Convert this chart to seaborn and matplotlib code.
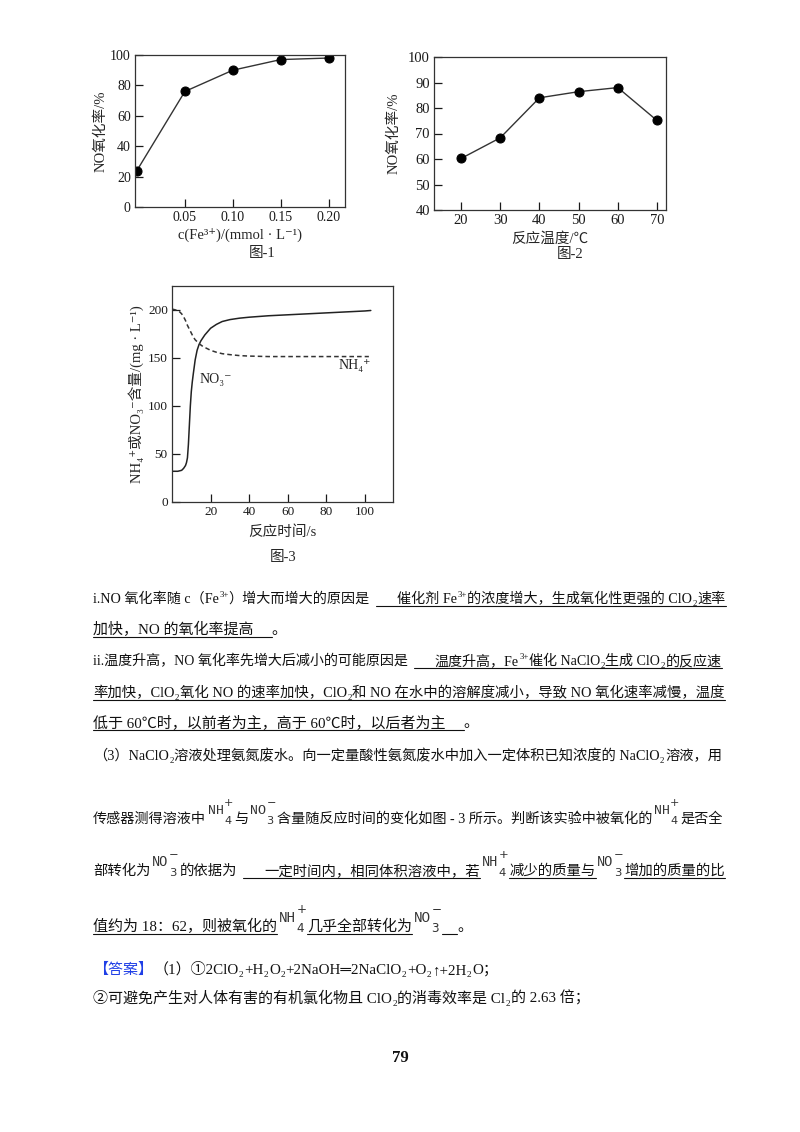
import matplotlib
matplotlib.use("Agg")
import matplotlib.pyplot as plt
from matplotlib.lines import Line2D
import seaborn as sns

# --- chart data ---
fe_conc = [0.0, 0.05, 0.10, 0.15, 0.20]
no_rate_fe = [24, 76, 90, 97, 98]
fe_ticks = [0.05, 0.10, 0.15, 0.20]
fe_tick_labels = ["0.05", "0.10", "0.15", "0.20"]

temp_c = [20, 30, 40, 50, 60, 70]
no_rate_temp = [60.2, 68.3, 84.0, 86.4, 88.0, 75.1]

t_no3 = [0, 3, 5, 6, 7, 7.5, 8, 8.5, 9, 9.5, 10, 10.5, 11, 12, 13, 14, 15, 17,
         20, 23, 26, 30, 35, 40, 50, 60, 70, 80, 90, 100, 103]
no3 = [32, 32, 33, 35, 38, 41, 46, 60, 80, 100, 115, 125, 133, 148, 158, 164, 168, 174,
       181, 185, 188, 190, 191.5, 192.5, 194, 195, 196, 197, 198, 199, 199.5]
t_nh4 = [0, 2, 4, 5, 6, 7, 8, 9, 10, 11, 12, 14, 16, 18, 20, 23, 26, 30, 35, 40,
         50, 60, 80, 100, 102]
nh4 = [201, 200, 198, 196, 193, 189, 184, 180, 176, 172, 169, 165, 162, 160, 158, 156,
       154.5, 153.5, 152.5, 152, 151.5, 151.5, 151.5, 151.5, 151.5]

W, H = 800, 1132
RIGHT = 724
BODY = ["Liberation Serif", "Noto Sans CJK SC", "DejaVu Sans"]
INK = "#111111"

sns.set_theme(style="ticks")
plt.rcParams["font.family"] = BODY
plt.rcParams["axes.unicode_minus"] = False

fig = plt.figure(figsize=(8, 11.32), dpi=100)
renderer = fig.canvas.get_renderer()


def box(left, top, right, bottom):
    return fig.add_axes([left / W, 1 - bottom / H, (right - left) / W, (bottom - top) / H])


def style_axes(ax, fs):
    ax.tick_params(direction="in", length=6, width=0.9, labelsize=fs, pad=3,
                   colors="#1a1a1a")
    for sp in ax.spines.values():
        sp.set_linewidth(0.9)
        sp.set_color("#333333")
    ax.grid(False)


# --- figure 1 ---
ax1 = box(135, 55, 345, 207)
sns.lineplot(x=fe_conc, y=no_rate_fe, ax=ax1, color="#333333", lw=1.0, marker="o",
             markersize=6.5, markerfacecolor="black", markeredgecolor="black")
ax1.set_xlim(-0.002, 0.217)
ax1.set_ylim(0, 100)
ax1.set_xticks(fe_ticks, fe_tick_labels)
ax1.set_yticks([0, 20, 40, 60, 80, 100])
style_axes(ax1, 10)
ax1.set_xlabel("c(Fe³⁺)/(mmol · L⁻¹)", fontsize=10.5, labelpad=2.5)
ax1.set_ylabel("NO氧化率/%", fontsize=10.5, labelpad=2)
fig.text(262 / W, 1 - 257 / H, "图-1", fontsize=10.5, ha="center")

# --- figure 2 ---
ax2 = box(434, 57, 666, 210)
sns.lineplot(x=temp_c, y=no_rate_temp, ax=ax2, color="#333333", lw=1.0, marker="o",
             markersize=6.5, markerfacecolor="black", markeredgecolor="black")
ax2.set_xlim(13.1, 72.3)
ax2.set_ylim(40, 100)
ax2.set_xticks(temp_c)
ax2.set_yticks([40, 50, 60, 70, 80, 90, 100])
style_axes(ax2, 10.5)
ax2.set_xlabel("反应温度/℃", fontsize=10.5, labelpad=3.5)
ax2.set_ylabel("NO氧化率/%", fontsize=10.5, labelpad=5)
fig.text(570 / W, 1 - 258 / H, "图-2", fontsize=10.5, ha="center")

# --- figure 3 ---
ax3 = box(172, 286, 393, 502)
sns.lineplot(x=t_no3, y=no3, ax=ax3, color="#222222", lw=1.1)
sns.lineplot(x=t_nh4, y=nh4, ax=ax3, color="#333333", lw=1.1, linestyle=(0, (3, 2)))
ax3.set_xlim(0, 114.5)
ax3.set_ylim(0, 225)
ax3.set_xticks([20, 40, 60, 80, 100])
ax3.set_yticks([0, 50, 100, 150, 200])
style_axes(ax3, 9.5)
ax3.set_xlabel("反应时间/s", fontsize=10.5, labelpad=5)
ax3.set_ylabel("NH₄⁺或NO₃⁻含量/(mg · L⁻¹)", fontsize=10.5, labelpad=3)
ax3.text(14.5, 128, "NO₃⁻", fontsize=10, va="center", ha="left", color="#222222")
ax3.text(86.5, 142, "NH₄⁺", fontsize=10, va="center", ha="left", color="#222222")
fig.text(283 / W, 1 - 561 / H, "图-3", fontsize=10.5, ha="center")


# --- body text ---
def put(x, y, s, size, family=BODY, color=INK, **kw):
    return fig.text(x / W, 1 - y / H, s, fontsize=size, family=family, color=color,
                    ha="left", va="baseline", **kw)


def wid(t):
    return t.get_window_extent(renderer).width


def lay_line(y, runs, x0, size):
    em = size * 100 / 72
    x = x0
    arts, under = [], []
    for kind, s in runs:
        start = x
        ul = kind.startswith("u")
        k = kind[1:] if ul else kind
        if k == "gap":
            x += s * em
        elif k == "sub":
            t = put(x, y + 0.22 * em, s, size * 0.62)
            arts.append(t)
            x += wid(t) + 0.04 * em
        elif k == "sup":
            t = put(x, y - 0.45 * em, s, size * 0.62)
            arts.append(t)
            x += wid(t) + 0.02 * em
        elif k == "ion":
            base, lo, hi = s.split("|")
            t1 = put(x + 0.1 * em, y - 0.62 * em, base, size * 0.95,
                     family=["Liberation Mono", "DejaVu Sans"], color="#333333")
            xs = x + 0.1 * em + wid(t1) + 0.03 * em
            t2 = put(xs, y + 0.1 * em, lo, size * 0.8, family=["DejaVu Sans"], color="#333333")
            t3 = put(xs, y - 1.2 * em, hi, size * 0.8, family=["DejaVu Sans"], color="#333333")
            arts += [t1, t2, t3]
            x = xs + max(wid(t2), wid(t3)) + 0.06 * em
        elif k == "blue":
            t = put(x, y, s, size, color="#1f3fe6")
            arts.append(t)
            x += wid(t) + 0.02 * em
        else:
            t = put(x, y, s, size)
            arts.append(t)
            x += wid(t) + 0.02 * em
        if ul:
            under.append((start, x))
    return arts, under, x


def text_line(y, runs, justify=False, x0=93, size=10.8):
    arts, under, x = lay_line(y, runs, x0, size)
    if justify:
        f = (RIGHT - x0) / (x - x0)
        for a in arts:
            a.remove()
        arts, under, x = lay_line(y, runs, x0, size * f)
    for a, b in under:
        fig.add_artist(Line2D([a / W, b / W], [1 - (y + 2.5) / H] * 2, lw=0.8, color=INK))


text_line(603, [("t", "i.NO 氧化率随 c（Fe"), ("sup", "3+"), ("t", "）增大而增大的原因是"),
                ("gap", 0.4), ("ugap", 1.5), ("u", "催化剂 Fe"), ("usup", "3+"),
                ("u", "的浓度增大，生成氧化性更强的 ClO"), ("usub", "2"), ("u", "速率")],
          justify=True)
text_line(634, [("u", "加快，NO 的氧化率提高"), ("ugap", 1.2), ("t", "。")])
text_line(665, [("t", "ii.温度升高，NO 氧化率先增大后减小的可能原因是"), ("gap", 0.4),
                ("ugap", 1.5), ("u", "温度升高，Fe"), ("usup", "3+"), ("u", "催化 NaClO"),
                ("usub", "2"), ("u", "生成 ClO"), ("usub", "2"), ("u", "的反应速")],
          justify=True)
text_line(697, [("u", "率加快，ClO"), ("usub", "2"), ("u", "氧化 NO 的速率加快，ClO"),
                ("usub", "2"), ("u", "和 NO 在水中的溶解度减小，导致 NO 氧化速率减慢，温度")],
          justify=True)
text_line(727, [("u", "低于 60℃时，以前者为主，高于 60℃时，以后者为主"), ("ugap", 1.2), ("t", "。")])
text_line(760, [("t", "（3）NaClO"), ("sub", "2"),
                ("t", "溶液处理氨氮废水。向一定量酸性氨氮废水中加入一定体积已知浓度的 NaClO"),
                ("sub", "2"), ("t", "溶液，用")], justify=True)
text_line(823, [("t", "传感器测得溶液中"), ("ion", "NH|4|+"), ("t", "与"), ("ion", "NO|3|−"),
                ("t", "含量随反应时间的变化如图 - 3 所示。判断该实验中被氧化的"),
                ("ion", "NH|4|+"), ("t", "是否全")], justify=True)
text_line(875, [("t", "部转化为"), ("ion", "NO|3|−"), ("t", "的依据为"), ("gap", 0.4), ("ugap", 1.5),
                ("u", "一定时间内，相同体积溶液中，若"), ("ion", "NH|4|+"), ("u", "减少的质量与"),
                ("ion", "NO|3|−"), ("u", "增加的质量的比")], justify=True)
text_line(931, [("u", "值约为 18：62，则被氧化的"), ("ion", "NH|4|+"), ("u", "几乎全部转化为"),
                ("ion", "NO|3|−"), ("ugap", 1.0), ("t", "。")])
text_line(974, [("blue", "【答案】"), ("t", "（1）①2ClO"), ("sub", "2"), ("t", "+H"), ("sub", "2"),
                ("t", "O"), ("sub", "2"), ("t", "+2NaOH═2NaClO"), ("sub", "2"), ("t", "+O"),
                ("sub", "2"), ("t", "↑+2H"), ("sub", "2"), ("t", "O；")])
text_line(1003, [("t", "②可避免产生对人体有害的有机氯化物且 ClO"), ("sub", "2"), ("t", "的消毒效率是 Cl"),
                 ("sub", "2"), ("t", "的 2.63 倍；")])

fig.text(400 / W, 1 - 1062 / H, "79", fontsize=12, fontweight="bold", ha="center",
         va="baseline", family=["Liberation Serif"], color=INK)

fig.savefig("out.png", dpi=100, facecolor="white")
